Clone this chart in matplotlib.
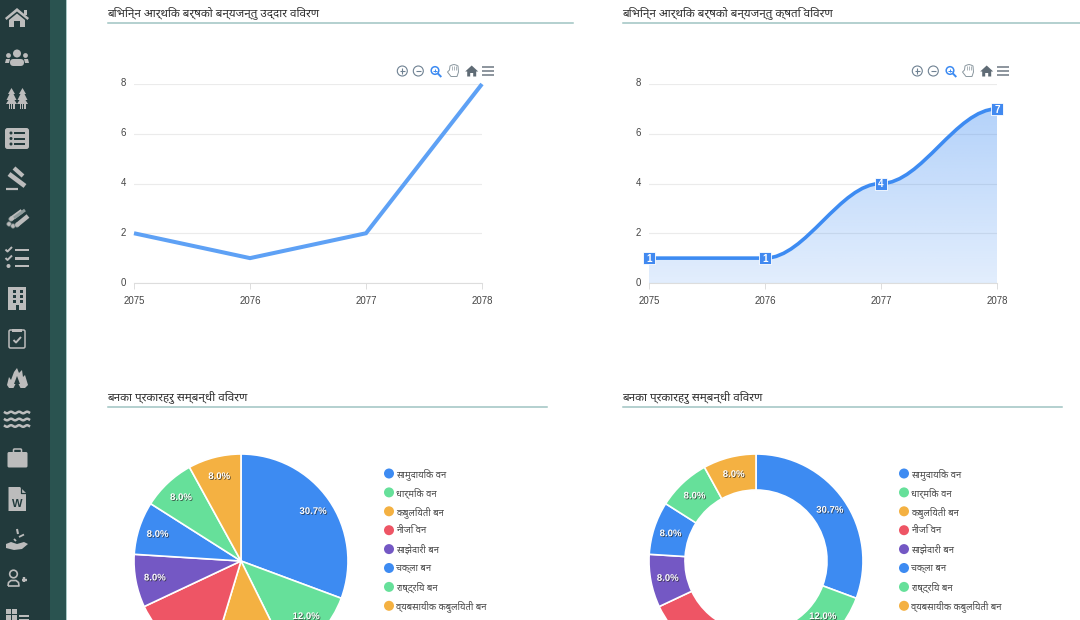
import numpy as np
import matplotlib
matplotlib.use("Agg")
import matplotlib.pyplot as plt
import matplotlib.patheffects as pe
from matplotlib.path import Path
from matplotlib.patches import Circle, FancyBboxPatch, PathPatch, Polygon, Rectangle
from matplotlib.transforms import ScaledTranslation

plt.rcParams["font.family"] = ["Noto Sans", "Liberation Sans", "DejaVu Sans"]

years = [2075, 2076, 2077, 2078]
rescue_counts = [2, 1, 2, 8]
damage_counts = [1, 1, 4, 7]
y_ticks = [0, 2, 4, 6, 8]

forest_types = ["सामुदायिक वन", "धार्मिक वन", "कबुलियती बन", "नीजि वन",
                "साझेदारी बन", "चक्ला बन", "राष्ट्रिय बन", "व्यबसायीक कबुलियती बन"]
forest_counts = [23, 9, 9, 10, 6, 6, 6, 6]

title_rescue = "बिभिन्न आर्थिक बर्षको बन्यजन्तु उद्दार विवरण"
title_damage = "बिभिन्न आर्थिक बर्षको बन्यजन्तु क्षति विवरण"
title_forest = "बनका प्रकारहरु सम्बन्धी विवरण"

BLUE = "#3d8bf2"
GREEN = "#66e09a"
ORANGE = "#f4b142"
RED = "#ee5565"
PURPLE = "#7458c4"
pie_colors = [BLUE, GREEN, ORANGE, RED, PURPLE, BLUE, GREEN, ORANGE]
ICON = "#bcbcbc"
DARK = "#223a3c"
W, H = 1080, 620

fig = plt.figure(figsize=(10.8, 6.2), dpi=100, facecolor="white")

# whole page in pixel coordinates, for sidebar, headings and toolbars
bg = fig.add_axes([0, 0, 1, 1])
bg.set_xlim(0, W)
bg.set_ylim(H, 0)
bg.axis("off")


def px_axes(x0, y0, x1, y1):
    ax = fig.add_axes([x0 / W, (H - y1) / H, (x1 - x0) / W, (y1 - y0) / H])
    ax.patch.set_alpha(0)
    return ax


def box(x, y, w, h, color=ICON, rad=0.0):
    if rad:
        bg.add_patch(FancyBboxPatch((x, y), w, h, boxstyle=f"round,pad=0,rounding_size={rad}",
                                    fc=color, ec="none"))
    else:
        bg.add_patch(Rectangle((x, y), w, h, fc=color, ec="none"))


def poly(pts, color=ICON):
    bg.add_patch(Polygon(pts, closed=True, fc=color, ec="none"))


def stroke(xs, ys, color=ICON, lw=1.5):
    bg.plot(xs, ys, color=color, lw=lw, solid_capstyle="butt")


def dot(x, y, r, color=ICON):
    bg.add_patch(Circle((x, y), r, fc=color, ec="none"))


# ---- sidebar
box(0, 0, 50, H, DARK)
box(50, 0, 16, H, "#2a5350")
box(66, 0, 1, H, "#a9c8c6")

# home
poly([(5, 18), (17, 8), (29, 18), (27.5, 20), (17, 11.5), (6.5, 20)])
box(24, 9.5, 2.5, 5)
poly([(9, 20), (17, 13.5), (25, 20), (25, 27), (20, 27), (20, 21), (14, 21), (14, 27), (9, 27)])
# people
dot(17, 53.5, 4)
bg.add_patch(FancyBboxPatch((10, 59), 14, 7, boxstyle="round,pad=0,rounding_size=3.5", fc=ICON, ec="none"))
dot(8.5, 55.5, 2.4)
dot(25.5, 55.5, 2.4)
poly([(5, 63), (6, 59), (10, 59), (9, 63)])
poly([(29, 63), (28, 59), (24, 59), (25, 63)])
# trees
for cx in (11.5, 22.5):
    poly([(cx, 88), (cx + 3.5, 94), (cx + 2, 94), (cx + 5, 100), (cx + 3, 100), (cx + 5.5, 104),
          (cx - 5.5, 104), (cx - 3, 100), (cx - 5, 100), (cx - 2, 94), (cx - 3.5, 94)])
    box(cx - 3, 104, 1.4, 5)
    box(cx + 1.6, 104, 1.4, 5)
    box(cx - 0.7, 104, 1.4, 5)
# list
box(5, 128, 24, 21, ICON, 2.5)
for ly in (133, 138.5, 144):
    dot(11, ly, 1.5, DARK)
    box(14, ly - 1, 11, 2, DARK)
# gavel
stroke([9, 25], [174, 186], lw=3.4)
stroke([14, 23], [168, 176], lw=3.0)
stroke([6, 18], [188.5, 188.5], lw=1.6)
# logs
for lx, ly in ((9, 224), (13, 226), (17, 225), (11, 219)):
    bg.add_patch(Circle((lx, ly), 2.2, fc=ICON, ec="#6f7f7f", lw=0.5))
stroke([11, 22], [219, 211], lw=3.2)
stroke([17, 28], [225, 216], lw=3.2)
stroke([14, 25], [218, 210], "#8f9b9b", lw=2.2)
# checklist
for ly in (250, 258.5):
    stroke([5.5, 7.5, 12], [ly - 0.5, ly + 1.5, ly - 3], lw=1.4)
dot(8.5, 266, 2)
for ly in (250, 258.5, 266):
    box(15, ly - 1.2, 14, 2.4)
# building
box(8, 287, 18, 23)
for wy in (291, 296, 301):
    for wx in (13, 20):
        box(wx, wy - 1, 2.5, 2.5, DARK)
box(15.5, 305, 3, 5, DARK)
# clipboard
bg.add_patch(FancyBboxPatch((9, 330), 16, 18, boxstyle="round,pad=0,rounding_size=1.5",
                            fc="none", ec=ICON, lw=1.1))
box(12, 329, 10, 3)
stroke([13.5, 16, 21], [340, 342.5, 337], lw=1.4)
# fire
poly([(7, 385), (9, 377), (11, 380), (14, 372), (17, 368), (19, 373), (22, 370), (23, 377),
      (25, 375), (28, 385), (25, 388), (9, 388)])
poly([(17, 376), (20, 384), (18.5, 384), (21, 389), (13, 389), (15.5, 384), (14, 384)], DARK)
# waves
wave_x = np.linspace(5, 29, 40)
for ly in (412.5, 419.5, 426):
    bg.plot(wave_x, ly + 0.8 * np.sin((wave_x - 5) * 0.78), color=ICON, lw=1.8)
# briefcase
box(7.5, 452, 20, 15.5, ICON, 1.5)
bg.add_patch(FancyBboxPatch((13.5, 449), 8, 5, boxstyle="round,pad=0,rounding_size=1",
                            fc="none", ec=ICON, lw=1.1))
# word file
poly([(8.5, 487), (20, 487), (26, 493), (26, 511), (8.5, 511)])
stroke([20.5, 20.5, 26], [487, 492.5, 492.5], DARK, lw=0.9)
bg.text(17, 504, "W", color=DARK, fontsize=8, fontweight="bold", ha="center", va="center",
        family="Liberation Sans")
# seed in hand
poly([(6, 544), (11, 542), (17, 544), (24, 542), (28, 544), (22, 549), (14, 550), (6, 548)])
stroke([17, 18], [529, 534], lw=1.5)
stroke([19, 24], [537, 534.5], lw=1.3)
stroke([14, 16], [539, 541], lw=1.3)
# user plus
bg.add_patch(Circle((13.5, 574), 3.8, fc="none", ec=ICON, lw=1.2))
stroke([8, 8.5, 11, 16, 18.5, 19, 8], [586, 582.5, 580.5, 580.5, 582.5, 586, 586], lw=1.2)
stroke([21.5, 27], [579.5, 579.5], lw=1.7)
stroke([24.2, 24.2], [576.8, 582.2], lw=1.7)
# table
for tx in (6, 12):
    for ty in (609, 615):
        box(tx, ty, 4.6, 4.6)
box(19, 615, 10, 2)
box(19, 618.5, 10, 1.5)


def heading(text, x0, x1, y_text, y_line):
    bg.text(x0 - 1, y_text, text, fontsize=8.4, color="#303030", ha="left", va="center")
    bg.plot([x0, x1], [y_line, y_line], color="#9fc4c2", lw=1.1)


heading(title_rescue, 108, 573, 13, 23)
heading(title_damage, 623, 1080, 13, 23)
heading(title_forest, 108, 547, 397, 407)
heading(title_forest, 623, 1062, 397, 407)


def toolbar(dx):
    grey = "#6e8192"
    y = 71
    for cx in (402.3 + dx, 418.3 + dx):
        bg.add_patch(Circle((cx, y), 5, fc="none", ec=grey, lw=0.8))
        stroke([cx - 2.8, cx + 2.8], [y, y], grey, 0.8)
    cx = 402.3 + dx
    stroke([cx, cx], [y - 2.8, y + 2.8], grey, 0.8)
    # zoom glass
    cx = 435 + dx
    bg.add_patch(Circle((cx, y - 0.5), 3.8, fc="none", ec=BLUE, lw=1.1))
    stroke([cx + 2.8, cx + 6.3], [y + 2.4, y + 6], BLUE, 1.4)
    stroke([cx - 1.6, cx + 1.6], [y - 0.5, y - 0.5], BLUE, 0.7)
    stroke([cx, cx], [y - 2.1, y + 1.1], BLUE, 0.7)
    # pan hand
    cx = 453 + dx
    bg.add_patch(Polygon([(cx - 5.5, y + 1), (cx - 3.5, y - 1), (cx - 3, y - 5), (cx - 1, y - 6),
                          (cx + 1, y - 6.5), (cx + 3, y - 6), (cx + 5, y - 5), (cx + 5.5, y + 1),
                          (cx + 4, y + 5.5), (cx - 2, y + 5.5)],
                         closed=True, fc="white", ec="#8a979f", lw=0.7))
    for off in (-1, 1, 3):
        stroke([cx + off, cx + off], [y - 5.5, y - 1], "#8a979f", 0.5)
    # home
    cx = 471.7 + dx
    poly([(cx - 6.5, y + 0.5), (cx, y - 5.5), (cx + 6.5, y + 0.5), (cx + 4.5, y + 0.5), (cx + 4.5, y + 5.5),
          (cx + 1.5, y + 5.5), (cx + 1.5, y + 2), (cx - 1.5, y + 2), (cx - 1.5, y + 5.5), (cx - 4.5, y + 5.5),
          (cx - 4.5, y + 0.5)], "#5f6b75")
    # menu
    cx = 487.7 + dx
    for off in (-4, 0, 4):
        stroke([cx - 6, cx + 6], [y + off, y + off], "#6e7882", 1.1)


toolbar(0)
toolbar(515)


def line_axes(x0):
    ax = px_axes(x0, 84, x0 + 348, 283)
    ax.set_xlim(years[0], years[-1])
    ax.set_ylim(0, 8)
    ax.set_xticks(years)
    ax.set_yticks(y_ticks)
    ax.grid(axis="y", color="#ebebeb", lw=0.8)
    ax.set_axisbelow(True)
    for name in ("top", "left", "right"):
        ax.spines[name].set_visible(False)
    ax.spines["bottom"].set_color("#dddddd")
    ax.spines["bottom"].set_linewidth(0.8)
    ax.tick_params(axis="x", length=4, width=0.7, color="#dddddd", labelsize=6.9,
                   labelcolor="#444444", pad=5.5)
    ax.tick_params(axis="y", length=0, labelsize=6.9, labelcolor="#444444", pad=5.5)
    up = ScaledTranslation(0, 1.5 / 100, fig.dpi_scale_trans)
    for lab in ax.get_yticklabels():
        lab.set_transform(lab.get_transform() + up)
    for lab in ax.get_xticklabels() + ax.get_yticklabels():
        lab.set_fontfamily("Liberation Sans")
    return ax


# rescue chart
ax = line_axes(134)
ax.plot(years, rescue_counts, color="#5ea1f5", lw=2.9, solid_joinstyle="miter", solid_capstyle="butt",
        clip_on=False, zorder=3)

# damage chart, smooth curve with flat tangents at each point
ax = line_axes(649)
verts = [(years[0], damage_counts[0])]
codes = [Path.MOVETO]
for i in range(len(years) - 1):
    x0, x1 = years[i], years[i + 1]
    y0, y1 = damage_counts[i], damage_counts[i + 1]
    k = 0.35 * (x1 - x0)
    verts += [(x0 + k, y0), (x1 - k, y1), (x1, y1)]
    codes += [Path.CURVE4] * 3

area = Path(verts + [(years[-1], 0), (years[0], 0), (years[0], damage_counts[0])],
            codes + [Path.LINETO, Path.LINETO, Path.LINETO])
grad = np.zeros((200, 2, 4))
grad[..., :3] = matplotlib.colors.to_rgb(BLUE)
grad[..., 3] = np.linspace(0.42, 0.15, 200)[:, None]
im = ax.imshow(grad, extent=(years[0], years[-1], 0, 8), origin="upper", aspect="auto", zorder=1)
im.set_clip_path(PathPatch(area, transform=ax.transData))
ax.set_xlim(years[0], years[-1])
ax.set_ylim(0, 8)
ax.add_patch(PathPatch(Path(verts, codes), fc="none", ec=BLUE, lw=2.6, zorder=3, clip_on=False))
ax.scatter(years, damage_counts, marker="s", s=72, color="#4189f0", edgecolors="white", linewidths=0.6,
           zorder=4, clip_on=False)
for x, y in zip(years, damage_counts):
    ax.annotate(str(y), (x, y), xytext=(0, -0.5), textcoords="offset points", color="white", fontsize=7.2,
                fontweight="bold", ha="center", va="center", family="Liberation Sans", zorder=5,
                annotation_clip=False)


def pie_chart(cx, hole):
    r = 107
    ax = px_axes(cx - r, 561 - r, cx + r, 561 + r)
    props = {"edgecolor": "white", "linewidth": 1.2}
    if hole:
        props["width"] = 36 / r
    wedges, _, pct = ax.pie(forest_counts, colors=pie_colors, startangle=90, counterclock=False, radius=1,
                            autopct="%.1f%%", pctdistance=0.84 if hole else 0.82, wedgeprops=props)
    ax.set_xlim(-1, 1)
    ax.set_ylim(-1, 1)
    for w in wedges:
        w.set_clip_on(False)
    for t in pct:
        t.set_color("white")
        t.set_fontsize(6.9)
        t.set_fontweight("bold")
        t.set_fontfamily("Liberation Sans")
        t.set_clip_on(False)
        t.set_path_effects([pe.withSimplePatchShadow(offset=(0.6, -0.6), shadow_rgbFace="#222222", alpha=0.7)])
    # the page is cropped here, 12.0% sits right on the edge and the next two fall below it
    pct[1].set_y(-55 / r)
    pct[2].set_visible(False)
    pct[3].set_visible(False)
    # legend
    lx = cx + 148
    for i, name in enumerate(forest_types):
        ly = 473.5 + i * 18.9
        bg.add_patch(Circle((lx, ly), 5, fc=pie_colors[i], ec="none"))
        bg.text(lx + 7, ly + 0.5, name, fontsize=6.8, color="#4a4a4a", ha="left", va="center")


pie_chart(241, False)
pie_chart(756, True)

fig.savefig("out.png", dpi=100)
